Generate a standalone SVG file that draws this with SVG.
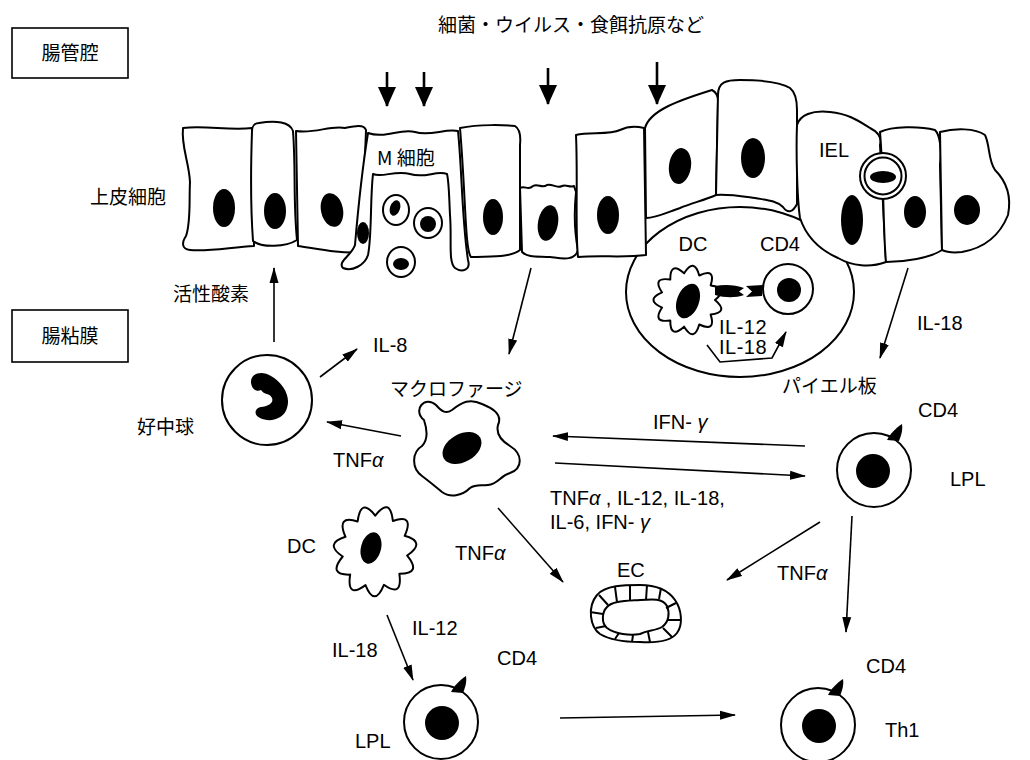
<svg xmlns="http://www.w3.org/2000/svg" width="1030" height="760" viewBox="0 0 1030 760">
  <defs>
    <style>
      .jp { font-family: "Noto Sans CJK JP", "Noto Sans CJK SC", sans-serif; font-size: 19px; fill: #000; }
      .lat { font-family: "Liberation Sans", Arial, sans-serif; font-size: 20px; fill: #000; }
      .cell { fill: #fff; stroke: #000; stroke-width: 2; stroke-linejoin: round; }
      .line { fill: none; stroke: #000; stroke-width: 2; }
      .nuc { fill: #000; }
      .box { fill: #fff; stroke: #000; stroke-width: 1.6; }
      .conn { fill: none; stroke: #000; stroke-width: 1.6; marker-end: url(#head); }
      .big { fill: none; stroke: #000; stroke-width: 2.6; marker-end: url(#bighead); }
    </style>
    <marker id="head" markerUnits="userSpaceOnUse" markerWidth="16" markerHeight="10" refX="15" refY="5" orient="auto">
      <path d="M0,0.5 L16,5 L0,9.5 Z" fill="#000"/>
    </marker>
    <marker id="bighead" markerUnits="userSpaceOnUse" markerWidth="20" markerHeight="20" refX="19" refY="10" orient="auto">
      <path d="M0,1 L20,10 L0,19 Z" fill="#000"/>
    </marker>
    <!-- CD4 marker tab on a lymphocyte -->
    <path id="cd4tab" d="M-6,3 C-3,-3 3,-9 9,-13 C10,-7 8,-1 6,4 Z"/>
  </defs>

  <rect width="1030" height="760" fill="#fff"/>

  <!-- region labels -->
  <g id="lumen-label">
    <rect class="box" x="12" y="28" width="116" height="50"/>
    <text class="jp" x="70" y="60" font-size="20" text-anchor="middle">腸管腔</text>
  </g>
  <g id="mucosa-label">
    <rect class="box" x="12" y="310" width="116" height="52"/>
    <text class="jp" x="70" y="343" font-size="20" text-anchor="middle">腸粘膜</text>
  </g>
  <text id="antigen-label" class="jp" x="571" y="32" font-size="17" text-anchor="middle">細菌・ウイルス・食餌抗原など</text>

  <!-- Peyer's patch -->
  <g id="peyer-patch">
    <ellipse class="cell" cx="740" cy="292" rx="114" ry="85"/>
    <path class="cell" transform="translate(688,300) scale(1.08)" d="M25,0 Q38.4,11.3 21,13.5 Q26.2,30.2 10.4,22.7 Q5.7,39.6 -3.6,24.7 Q-16.6,36.4 -16.4,18.9 Q-33.7,21.6 -24,7 Q-40,0 -24,-7 Q-33.7,-21.6 -16.4,-18.9 Q-16.6,-36.4 -3.6,-24.7 Q5.7,-39.6 10.4,-22.7 Q26.2,-30.2 21,-13.5 Q38.4,-11.3 25,0 Z" vector-effect="non-scaling-stroke"/>
    <ellipse class="nuc" cx="688" cy="301" rx="11" ry="18" transform="rotate(20 688 301)"/>
    <path class="nuc" d="M715,286 C725,284 736,285 744,288 L739,291.5 L744,295 C736,298 725,298 715,295 Z"/>
    <path class="nuc" d="M746,286 L763,285 L762,296 L746,297 L752,291.5 Z"/>
    <circle class="cell" cx="788" cy="289" r="25"/>
    <circle class="nuc" cx="789" cy="290" r="12"/>
    <text class="lat" x="693" y="251" text-anchor="middle">DC</text>
    <text class="lat" x="780" y="251" text-anchor="middle">CD4</text>
    <text class="lat" x="719" y="334" font-size="19" letter-spacing="0.5">IL-12</text>
    <text class="lat" x="719" y="354" font-size="19" letter-spacing="0.5">IL-18</text>
  </g>

  <!-- intestinal epithelium -->
  <g id="epithelium">
    <path class="cell" d="M183,128 C205,125 230,131 252,128 L254,246 C232,247 208,252 190,250 C181,249 182,242 186,236 C191,222 189,200 190,182 C189,162 181,146 183,128 Z"/>
    <path class="cell" d="M296,131 C315,134 330,125 345,128 C355,126 364,124 366,130 C365,170 360,210 363,252 C340,254 318,249 298,246 Z"/>
    <path class="cell" d="M259,123 C276,120 290,122 293,131 C296,170 293,200 297,240 C286,247 262,248 253,241 C250,200 251,160 252,131 C252,126 255,123 259,123 Z"/>
    <ellipse class="nuc" cx="224" cy="208" rx="11" ry="19"/>
    <ellipse class="nuc" cx="275" cy="211" rx="11" ry="18"/>
    <ellipse class="nuc" cx="332" cy="210" rx="11" ry="17" transform="rotate(-12 332 210)"/>
    <text class="jp" x="166" y="204" text-anchor="end">上皮細胞</text>
  </g>

  <g id="m-cell">
    <path class="cell" d="M368,133 C385,139 400,128 415,132 C430,137 445,128 458,131 C462,170 462,222 468,260 C471,270 462,273 455,268 C448,262 452,240 450,215 C449,195 449,182 447,174 C436,170 425,179 410,174 C395,170 382,178 373,174 C370,200 372,235 368,255 C365,265 352,272 343,268 C337,262 352,255 355,245 C358,210 362,170 368,133 Z"/>
    <ellipse class="nuc" cx="363" cy="233" rx="6" ry="11"/>
    <ellipse class="cell" cx="396" cy="210" rx="13" ry="15"/>
    <ellipse class="nuc" cx="395" cy="208" rx="5" ry="8" transform="rotate(20 395 208)"/>
    <ellipse class="cell" cx="428" cy="223" rx="14" ry="15"/>
    <circle class="nuc" cx="428" cy="224" r="8"/>
    <ellipse class="cell" cx="401" cy="262" rx="14" ry="15"/>
    <ellipse class="nuc" cx="401" cy="264" rx="8" ry="6"/>
    <text class="jp" x="377" y="165" font-size="17">M 細胞</text>
  </g>

  <g id="epithelium-right">
    <path class="cell" d="M460,128 C480,124 505,125 515,126 C520,129 521,135 520,145 L520,250 C510,258 490,256 471,257 C465,250 466,200 460,128 Z"/>
    <path class="cell" d="M520,188 C525,185 528,191 533,186 C538,183 542,189 547,185 C552,183 556,189 562,186 C566,184 570,188 574,186 L576,192 C574,212 575,235 578,250 C575,262 560,258 550,257 C540,256 528,258 522,252 Z"/>
    <path class="cell" d="M576,135 C590,132 610,135 620,130 C628,126 636,126 644,128 L646,255 C625,258 600,255 578,257 C575,230 578,180 576,135 Z"/>
    <path class="cell" d="M645,128 C650,110 680,100 712,90 C716,92 718,96 718,101 L716,195 C705,200 692,203 680,208 C668,212 656,218 646,218 Z"/>
    <path class="cell" d="M718,95 C718,82 726,80 740,80 C760,80 780,82 790,88 C795,92 797,100 797,110 L797,204 C793,212 788,214 783,207 C776,200 765,200 755,198 C740,196 728,194 716,195 Z"/>
    <path class="cell" d="M797,125 C800,115 812,110 830,112 C850,114 860,122 870,128 C878,132 882,138 880,145 L886,262 C870,268 852,266 838,258 C820,250 806,236 800,218 C797,198 796,150 797,125 Z"/>
    <path class="cell" d="M880,132 C892,126 920,126 935,130 C940,135 942,150 940,165 L942,250 C930,258 905,262 886,262 C883,230 884,180 880,132 Z"/>
    <path class="cell" d="M940,132 C955,128 975,128 985,135 C990,145 988,160 995,170 C1005,180 1012,195 1008,215 C1000,235 985,248 962,252 C952,253 946,252 942,250 Z"/>
    <ellipse class="nuc" cx="493" cy="217" rx="10" ry="18"/>
    <ellipse class="nuc" cx="548" cy="223" rx="10" ry="18" transform="rotate(10 548 223)"/>
    <ellipse class="nuc" cx="608" cy="215" rx="11" ry="19"/>
    <ellipse class="nuc" cx="680" cy="166" rx="11" ry="18" transform="rotate(8 680 166)"/>
    <ellipse class="nuc" cx="753" cy="158" rx="12" ry="20"/>
    <ellipse class="nuc" cx="852" cy="220" rx="11" ry="25"/>
    <ellipse class="nuc" cx="915" cy="212" rx="11" ry="16"/>
    <ellipse class="nuc" cx="967" cy="210" rx="13" ry="15"/>
  </g>

  <g id="iel">
    <circle class="cell" cx="883" cy="176" r="23"/>
    <circle class="line" cx="883" cy="176" r="18.5"/>
    <ellipse class="nuc" cx="883" cy="177" rx="13" ry="6"/>
    <text class="lat" x="819" y="157" font-size="19">IEL</text>
  </g>

  <!-- neutrophil -->
  <g id="neutrophil">
    <circle class="cell" cx="267" cy="400" r="45"/>
    <path class="nuc" d="M251,383 C250,373 262,370 271,376 C283,383 291,396 287,408 C284,419 270,423 260,418 C253,415 255,408 261,407 C268,406 274,403 272,398 C270,393 264,395 261,390 C257,392 252,390 251,383 Z"/>
    <text class="jp" x="137" y="434" font-size="21">好中球</text>
  </g>

  <!-- macrophage -->
  <g id="macrophage">
    <path class="cell" d="M424,420 C412,410 425,395 436,405 C442,412 446,414 452,410 C462,402 470,398 482,404 C492,408 503,414 498,425 C496,433 500,440 510,446 C523,454 523,468 510,473 C500,476 498,484 488,485 C480,486 476,484 470,488 C462,496 450,498 442,492 C436,487 430,482 422,476 C411,468 412,452 422,446 C428,440 428,432 424,420 Z"/>
    <ellipse class="nuc" cx="462" cy="448" rx="21" ry="14" transform="rotate(-30 462 448)"/>
    <text class="jp" x="390" y="396" font-size="20">マクロファージ</text>
  </g>

  <!-- dendritic cell in the lamina propria -->
  <g id="dc">
    <path class="cell" transform="translate(375,551) rotate(8) scale(1.3,1.42)" d="M25,0 Q38.4,11.3 21,13.5 Q26.2,30.2 10.4,22.7 Q5.7,39.6 -3.6,24.7 Q-16.6,36.4 -16.4,18.9 Q-33.7,21.6 -24,7 Q-40,0 -24,-7 Q-33.7,-21.6 -16.4,-18.9 Q-16.6,-36.4 -3.6,-24.7 Q5.7,-39.6 10.4,-22.7 Q26.2,-30.2 21,-13.5 Q38.4,-11.3 25,0 Z" vector-effect="non-scaling-stroke"/>
    <ellipse class="nuc" cx="371" cy="548" rx="10" ry="16" transform="rotate(15 371 548)"/>
    <text class="lat" x="287" y="553">DC</text>
  </g>

  <!-- endothelial cell / vessel -->
  <g id="ec">
    <path class="cell" d="M597,595 C605,585 625,585 640,585 C655,585 668,590 675,600 C682,610 683,625 677,633 C670,642 655,643 640,642 C625,642 610,640 600,634 C590,627 587,607 597,595 Z"/>
    <path class="line" d="M607,607 C612,601 625,601 640,600 C652,599 663,598 667,606 C670,613 669,622 662,627 C655,631 648,630 640,634 C630,636 615,634 607,628 C601,623 602,612 607,607 Z"/>
    <path class="line" stroke-width="1.5" d="M615,587 L617,602 M630,585 L630,601 M647,585 L646,600 M661,588 L659,599 M676,603 L666,608 M680,620 L668,620 M672,637 L663,628 M650,642 L648,632 M632,642 L633,635 M615,639 L619,633 M596,628 L606,626 M590,612 L603,614 M599,595 L608,605"/>
    <text class="lat" x="617" y="577">EC</text>
  </g>

  <!-- lamina propria lymphocytes -->
  <g id="lpl-right">
    <circle class="cell" cx="874" cy="470" r="37"/>
    <circle class="nuc" cx="873" cy="471" r="17"/>
    <use href="#cd4tab" x="893" y="437"/>
    <text class="lat" x="918" y="417">CD4</text>
    <text class="lat" x="950" y="486">LPL</text>
    <text class="jp" x="782" y="393" font-size="20">パイエル板</text>
  </g>
  <g id="lpl-left">
    <circle class="cell" cx="441" cy="722" r="37"/>
    <circle class="nuc" cx="442" cy="723" r="17"/>
    <use href="#cd4tab" x="457" y="689"/>
    <text class="lat" x="497" y="665">CD4</text>
    <text class="lat" x="355" y="748">LPL</text>
  </g>
  <g id="th1">
    <circle class="cell" cx="818" cy="725" r="37"/>
    <circle class="nuc" cx="819" cy="726" r="17"/>
    <use href="#cd4tab" x="834" y="692"/>
    <text class="lat" x="866" y="673">CD4</text>
    <text class="lat" x="885" y="737">Th1</text>
  </g>

  <!-- connectors -->
  <g id="connectors">
    <line class="big" x1="387" y1="72" x2="387" y2="106"/>
    <line class="big" x1="424" y1="72" x2="424" y2="106"/>
    <line class="big" x1="548" y1="68" x2="548" y2="104"/>
    <line class="big" x1="657" y1="62" x2="657" y2="104"/>
    <polyline class="conn" points="707,345 720,362 772,358 786,332"/>
    <line class="conn" x1="274" y1="342" x2="274" y2="268"/>
    <line class="conn" x1="320" y1="377" x2="357" y2="349"/>
    <line class="conn" x1="401" y1="436" x2="327" y2="422"/>
    <line class="conn" x1="531" y1="268" x2="509" y2="354"/>
    <line class="conn" x1="908" y1="268" x2="880" y2="358"/>
    <line class="conn" x1="805" y1="446" x2="553" y2="436"/>
    <line class="conn" x1="555" y1="463" x2="805" y2="476"/>
    <line class="conn" x1="498" y1="508" x2="563" y2="582"/>
    <line class="conn" x1="820" y1="522" x2="727" y2="580"/>
    <line class="conn" x1="852" y1="516" x2="846" y2="632"/>
    <line class="conn" x1="387" y1="615" x2="413" y2="680"/>
    <line class="conn" x1="560" y1="718" x2="735" y2="715"/>
  </g>

  <!-- cytokine labels -->
  <g id="cytokine-labels">
    <text class="jp" x="173" y="301" font-size="20">活性酸素</text>
    <text class="lat" x="373" y="352">IL-8</text>
    <text class="lat" x="333" y="467">TNF<tspan font-style="italic">α</tspan></text>
    <text class="lat" x="653" y="429">IFN- <tspan font-style="italic">γ</tspan></text>
    <text class="lat" x="550" y="505">TNF<tspan font-style="italic">α</tspan> , IL-12, IL-18,</text>
    <text class="lat" x="550" y="529">IL-6, IFN- <tspan font-style="italic">γ</tspan></text>
    <text class="lat" x="455" y="560">TNF<tspan font-style="italic">α</tspan></text>
    <text class="lat" x="777" y="580">TNF<tspan font-style="italic">α</tspan></text>
    <text class="lat" x="917" y="330">IL-18</text>
    <text class="lat" x="412" y="635">IL-12</text>
    <text class="lat" x="332" y="657">IL-18</text>
  </g>
</svg>
